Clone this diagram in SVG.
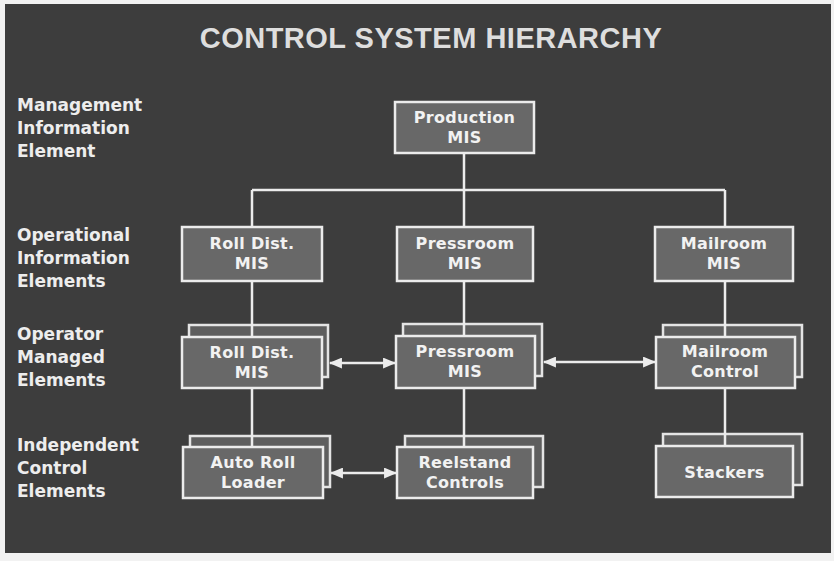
<svg xmlns="http://www.w3.org/2000/svg" width="834" height="561" viewBox="0 0 834 561">
<defs>
<style>
.bx{fill:#686868;stroke:#ececec;stroke-width:2.5}
.bk{fill:#5e5e5e;stroke:#e4e4e4;stroke-width:2.5}
.lb{font-family:"DejaVu Sans",sans-serif;font-weight:bold;font-size:17px;fill:#ededed}
.bt{font-family:"DejaVu Sans",sans-serif;font-weight:bold;font-size:16px;fill:#f2f2f2;letter-spacing:0.3px;text-anchor:middle}
.ln{stroke:#ececec;stroke-width:2.5;fill:none}
</style>
<marker id="ah" viewBox="0 0 12 10" refX="11" refY="5" markerWidth="13" markerHeight="11" markerUnits="userSpaceOnUse" orient="auto-start-reverse">
<path d="M0,0 L12,5 L0,10 z" fill="#ececec"/>
</marker>
</defs>
<rect width="834" height="561" fill="#f2f2f2"/>
<rect x="5" y="4" width="826" height="549" fill="#3d3d3d"/>
<text x="431" y="48" font-family="Liberation Sans,Arial,sans-serif" font-weight="bold" font-size="29" fill="#dedede" text-anchor="middle" letter-spacing="0.5">CONTROL SYSTEM HIERARCHY</text>

<g id="labels">
<text class="lb" x="17" y="111">Management</text>
<text class="lb" x="17" y="134">Information</text>
<text class="lb" x="17" y="157">Element</text>
<text class="lb" x="17" y="241">Operational</text>
<text class="lb" x="17" y="264">Information</text>
<text class="lb" x="17" y="287">Elements</text>
<text class="lb" x="17" y="340">Operator</text>
<text class="lb" x="17" y="363">Managed</text>
<text class="lb" x="17" y="386">Elements</text>
<text class="lb" x="17" y="451">Independent</text>
<text class="lb" x="17" y="474">Control</text>
<text class="lb" x="17" y="497">Elements</text>
</g>

<g id="production-mis">
<rect class="bx" x="395" y="102" width="139" height="51"/>
<text class="bt" x="464.5" y="123">Production</text>
<text class="bt" x="464.5" y="143">MIS</text>
</g>

<g id="rolldist-op">
<rect class="bx" x="182" y="227" width="140" height="54"/>
<text class="bt" x="252" y="249">Roll Dist.</text>
<text class="bt" x="252" y="269">MIS</text>
</g>
<g id="pressroom-op">
<rect class="bx" x="397" y="227" width="136" height="54"/>
<text class="bt" x="465" y="249">Pressroom</text>
<text class="bt" x="465" y="269">MIS</text>
</g>
<g id="mailroom-op">
<rect class="bx" x="655" y="227" width="138" height="54"/>
<text class="bt" x="724" y="249">Mailroom</text>
<text class="bt" x="724" y="269">MIS</text>
</g>

<g id="rolldist-man">
<rect class="bk" x="189" y="325" width="139" height="52"/>
<rect class="bx" x="182" y="337" width="140" height="51"/>
<text class="bt" x="252" y="358">Roll Dist.</text>
<text class="bt" x="252" y="378">MIS</text>
</g>
<g id="pressroom-man">
<rect class="bk" x="403" y="324" width="139" height="52"/>
<rect class="bx" x="396" y="336" width="139" height="52"/>
<text class="bt" x="465" y="357">Pressroom</text>
<text class="bt" x="465" y="377">MIS</text>
</g>
<g id="mailroom-man">
<rect class="bk" x="663" y="325" width="139" height="52"/>
<rect class="bx" x="656" y="337" width="139" height="51"/>
<text class="bt" x="725" y="357">Mailroom</text>
<text class="bt" x="725" y="377">Control</text>
</g>

<g id="autoroll">
<rect class="bk" x="190" y="436" width="140" height="51"/>
<rect class="bx" x="183" y="447" width="140" height="51"/>
<text class="bt" x="253" y="468">Auto Roll</text>
<text class="bt" x="253" y="488">Loader</text>
</g>
<g id="reelstand">
<rect class="bk" x="405" y="436" width="138" height="51"/>
<rect class="bx" x="397" y="447" width="136" height="51"/>
<text class="bt" x="465" y="468">Reelstand</text>
<text class="bt" x="465" y="488">Controls</text>
</g>
<g id="stackers">
<rect class="bk" x="663" y="434" width="139" height="51"/>
<rect class="bx" x="656" y="446" width="137" height="51"/>
<text class="bt" x="724.5" y="478">Stackers</text>
</g>

<g id="connectors">
<path class="ln" d="M464,153 V190 M252,190 H725 M252,190 V227 M464,190 V227 M725,190 V227"/>
<path class="ln" d="M252,281 V337 M464,281 V336 M725,281 V337"/>
<path class="ln" d="M252,388 V447 M464,388 V447 M725,388 V446"/>
<line class="ln" x1="330" y1="363" x2="395" y2="363" marker-start="url(#ah)" marker-end="url(#ah)"/>
<line class="ln" x1="544" y1="362" x2="655" y2="362" marker-start="url(#ah)" marker-end="url(#ah)"/>
<line class="ln" x1="331" y1="473" x2="396" y2="473" marker-start="url(#ah)" marker-end="url(#ah)"/>
</g>
</svg>
